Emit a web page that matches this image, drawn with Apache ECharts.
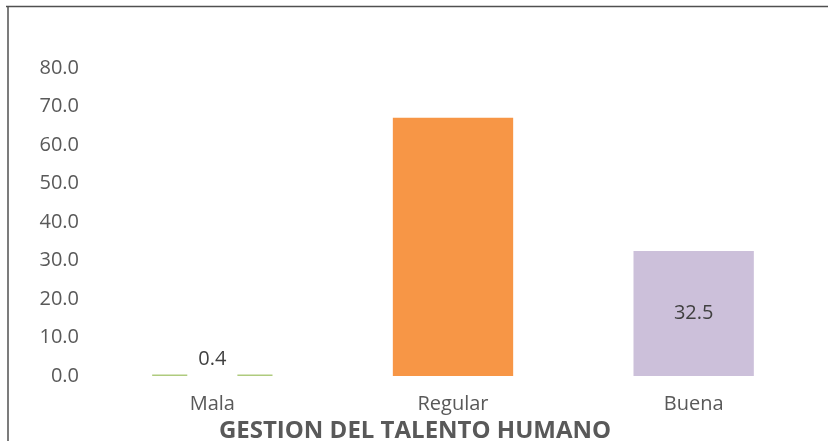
<!DOCTYPE html>
<html>
<head>
<meta charset="utf-8">
<script src="https://cdn.jsdelivr.net/npm/echarts@6/dist/echarts.min.js"></script>
<style>
  html, body { margin: 0; padding: 0; background: #ffffff; }
  #chart { width: 828px; height: 441px; }
</style>
</head>
<body>
<div id="chart"></div>
<script>
// Categories and percentages of the evaluation
const categories = ['Mala', 'Regular', 'Buena'];
const values = [0.4, 67.1, 32.5];
const barColors = ['#AFCB7E', '#F79646', '#CCC0DA'];
const yTicks = { min: 0, max: 80, interval: 10 };
const axisTitle = 'GESTION DEL TALENTO HUMANO';

const font = '"Open Sans", "Noto Sans", sans-serif';

const chart = echarts.init(document.getElementById('chart'), null, { renderer: 'canvas' });

const data = values.map((v, i) => {
  const item = { value: v, itemStyle: { color: barColors[i] } };
  if (i === 0) {
    // white box behind the value breaks the thin bar like a data label
    item.label = {
      show: true, position: 'top', distance: -6,
      formatter: p => p.value.toFixed(1),
      color: '#404040', fontSize: 20, fontFamily: font,
      backgroundColor: '#ffffff', padding: [0, 11, 11, 11]
    };
  } else if (i === 2) {
    item.label = {
      show: true, position: 'inside',
      formatter: p => p.value.toFixed(1),
      color: '#404040', fontSize: 20, fontFamily: font
    };
  }
  return item;
});

chart.setOption({
  animation: false,
  backgroundColor: '#ffffff',
  grid: { left: 92, right: 14, top: 68, bottom: 65, containLabel: false, outerBoundsMode: 'none' },
  xAxis: {
    type: 'category',
    data: categories,
    name: axisTitle,
    nameLocation: 'middle',
    nameGap: 43,
    nameTextStyle: {
      color: '#595959', fontSize: 24, fontWeight: 'bold', fontFamily: font,
      padding: [0, 76, 0, 0]
    },
    axisLine: { show: false },
    axisTick: { show: false },
    axisLabel: { color: '#595959', fontSize: 20, fontFamily: font, margin: 18 }
  },
  yAxis: {
    type: 'value',
    min: yTicks.min, max: yTicks.max, interval: yTicks.interval,
    axisLine: { show: false },
    axisTick: { show: false },
    splitLine: { show: false },
    axisLabel: {
      color: '#595959', fontSize: 20, fontFamily: font, margin: 13,
      formatter: v => v.toFixed(1)
    }
  },
  series: [{
    type: 'bar',
    data: data,
    barWidth: '50%',
    label: { show: false }
  }],
  graphic: [
    { type: 'line', shape: { x1: 6, y1: 6.5, x2: 828, y2: 6.5 }, style: { stroke: '#505050', lineWidth: 1.5 } },
    { type: 'line', shape: { x1: 8, y1: 6, x2: 8, y2: 441 }, style: { stroke: '#505050', lineWidth: 1.5 } }
  ]
});
</script>
</body>
</html>
